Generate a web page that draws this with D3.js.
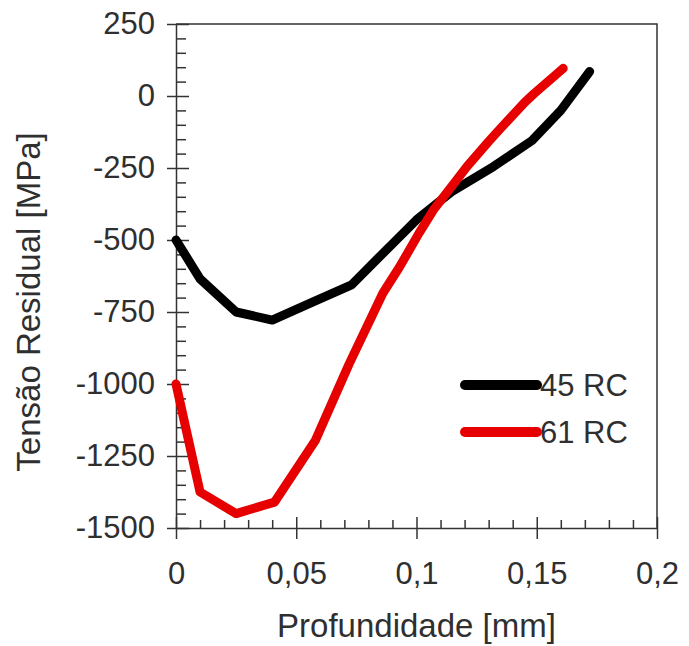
<!DOCTYPE html>
<html>
<head>
<meta charset="utf-8">
<script src="https://cdn.jsdelivr.net/npm/d3@7"></script>
<style>
  html, body { margin: 0; padding: 0; background: #ffffff; }
  svg { display: block; }
  text { font-family: "Liberation Sans", Arial, Helvetica, sans-serif; fill: #2f2f2f; }
</style>
</head>
<body>
<svg id="chart" width="689" height="646"></svg>
<script>
// ---- data ----
const seriesNames = ["45 RC", "61 RC"];
const seriesColors = ["#000000", "#e60000"];
const depth45 = [0, 0.01, 0.025, 0.04, 0.057, 0.073, 0.085, 0.1, 0.115, 0.132, 0.148, 0.16, 0.172];
const stress45 = [-500, -635, -750, -778, -715, -656, -555, -430, -330, -245, -155, -50, 85];
const depth61 = [0, 0.01, 0.025, 0.041, 0.058, 0.072, 0.086, 0.093, 0.101, 0.107, 0.115, 0.121, 0.13, 0.135, 0.145, 0.149, 0.161];
const stress61 = [-1000, -1375, -1450, -1410, -1195, -930, -685, -593, -477, -396, -310, -245, -158, -112, -22, 9, 96];
const xTickValues = [0, 0.05, 0.1, 0.15, 0.2];
const xTickLabels = ["0", "0,05", "0,1", "0,15", "0,2"];
const yTickValues = [250, 0, -250, -500, -750, -1000, -1250, -1500];
const yTickLabels = ["250", "0", "-250", "-500", "-750", "-1000", "-1250", "-1500"];
const xTitle = "Profundidade [mm]";
const yTitle = "Tensão Residual [MPa]";

// ---- layout ----
const L = 176, T = 24, R = 657, B = 528;
const svg = d3.select("#chart");
const x = d3.scaleLinear().domain([0, 0.2]).range([L, R]);
const y = d3.scaleLinear().domain([-1500, 250]).range([B, T]);

const axisColor = "#333";
const xMinor = d3.range(0, 0.2001, 0.01).filter(v => !xTickValues.some(t => Math.abs(t - v) < 1e-9));
const yMinor = d3.range(-1500, 251, 50).filter(v => yTickValues.indexOf(v) < 0);

// frame (top + right)
svg.append("path")
  .attr("d", `M${L},${T}H${R}V${B}`)
  .attr("fill", "none").attr("stroke", axisColor).attr("stroke-width", 1.5);

function styleAxis(g) {
  g.select(".domain").attr("stroke", axisColor).attr("stroke-width", 1.5);
  g.selectAll(".tick line").attr("stroke", axisColor).attr("stroke-width", 1.5);
  g.selectAll("text").attr("fill", "#2f2f2f").style("font-size", "31px")
    .style("font-family", '"Liberation Sans", Arial, sans-serif');
}

// Y axis: labels + outer ticks
const yAxisL = svg.append("g").attr("transform", `translate(${L},0)`)
  .call(d3.axisLeft(y).tickValues(yTickValues)
    .tickFormat((d, i) => yTickLabels[i]).tickSizeInner(9).tickSizeOuter(0).tickPadding(12));
styleAxis(yAxisL);
// inner major ticks
const yAxisIn = svg.append("g").attr("transform", `translate(${L},0)`)
  .call(d3.axisRight(y).tickValues(yTickValues).tickFormat("").tickSizeInner(13).tickSizeOuter(0));
styleAxis(yAxisIn);
yAxisIn.select(".domain").remove();
// minor
const yAxisMin = svg.append("g").attr("transform", `translate(${L},0)`)
  .call(d3.axisRight(y).tickValues(yMinor).tickFormat("").tickSizeInner(10).tickSizeOuter(0));
styleAxis(yAxisMin);
yAxisMin.select(".domain").remove();

// X axis
const xAxisB = svg.append("g").attr("transform", `translate(0,${B})`)
  .call(d3.axisBottom(x).tickValues(xTickValues)
    .tickFormat((d, i) => xTickLabels[i]).tickSizeInner(11).tickSizeOuter(0).tickPadding(23));
styleAxis(xAxisB);
const xAxisIn = svg.append("g").attr("transform", `translate(0,${B})`)
  .call(d3.axisTop(x).tickValues(xTickValues).tickFormat("").tickSizeInner(11).tickSizeOuter(0));
styleAxis(xAxisIn);
xAxisIn.select(".domain").remove();
const xAxisMin = svg.append("g").attr("transform", `translate(0,${B})`)
  .call(d3.axisTop(x).tickValues(xMinor).tickFormat("").tickSizeInner(8).tickSizeOuter(0));
styleAxis(xAxisMin);
xAxisMin.select(".domain").remove();

// titles
svg.append("text")
  .attr("x", (L + R) / 2).attr("y", 637)
  .attr("text-anchor", "middle").style("font-size", "33px")
  .text(xTitle);
svg.append("text")
  .attr("transform", "translate(40,302) rotate(-90)")
  .attr("text-anchor", "middle").style("font-size", "33px")
  .text(yTitle);

// lines
const line = d3.line().x(d => x(d[0])).y(d => y(d[1]));
const series = [
  d3.zip(depth45, stress45),
  d3.zip(depth61, stress61)
];
// draw black first, red on top
series.forEach((s, i) => {
  svg.append("path")
    .datum(s)
    .attr("d", line)
    .attr("fill", "none")
    .attr("stroke", seriesColors[i])
    .attr("stroke-width", 9)
    .attr("stroke-linejoin", "round")
    .attr("stroke-linecap", "round");
});

// legend
const legY = [385, 432];
seriesNames.forEach((name, i) => {
  svg.append("line")
    .attr("x1", 465).attr("x2", 537)
    .attr("y1", legY[i]).attr("y2", legY[i])
    .attr("stroke", seriesColors[i]).attr("stroke-width", 10)
    .attr("stroke-linecap", "round");
  svg.append("text")
    .attr("x", 540).attr("y", legY[i])
    .attr("dy", "0.36em")
    .style("font-size", "31px")
    .text(name);
});
</script>
</body>
</html>
